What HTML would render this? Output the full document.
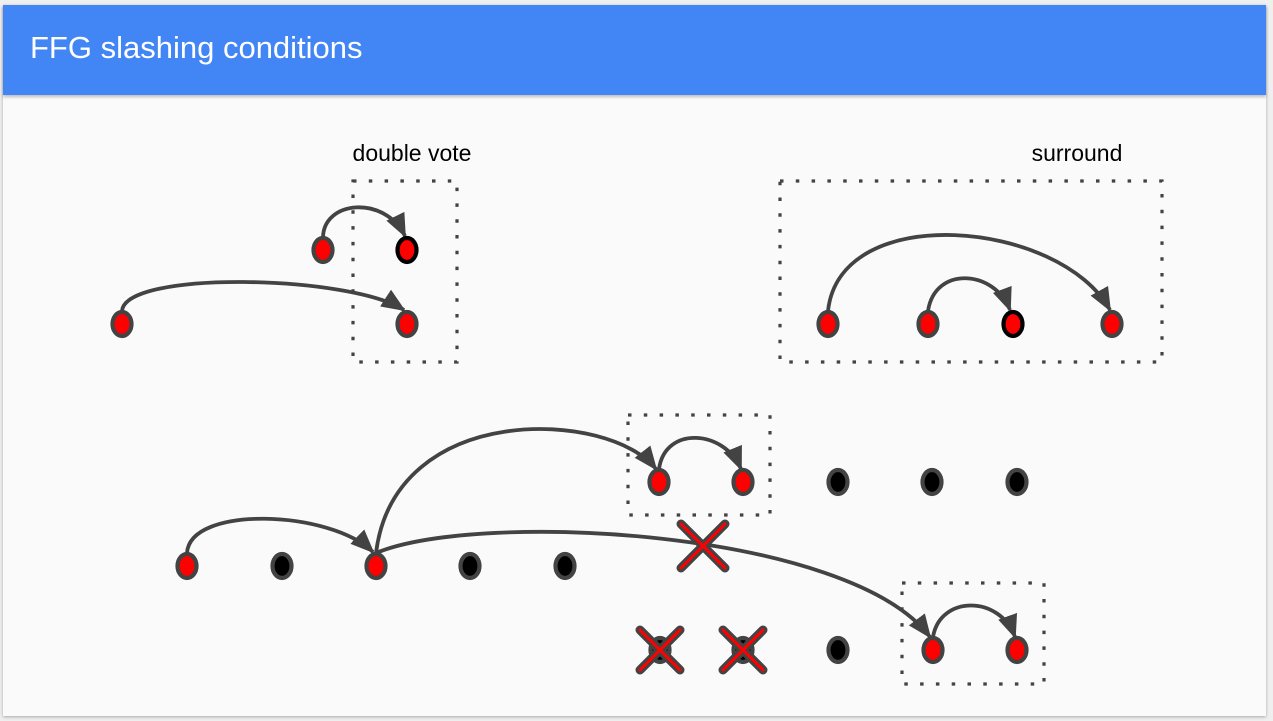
<!DOCTYPE html>
<html><head><meta charset="utf-8"><style>
html,body{margin:0;padding:0;background:#efefef;width:1273px;height:721px;overflow:hidden}
.card{position:absolute;left:3px;top:5px;width:1263px;height:711px;background:#fafafa;box-shadow:0 1px 3px rgba(0,0,0,.3)}
.hdr{position:absolute;left:0;top:0;width:1263px;height:90px;background:#4285f4;box-shadow:0 2px 3px rgba(0,0,0,.25)}
.hdr span{position:absolute;left:27px;top:25px;color:#fff;font:31px "Liberation Sans",sans-serif}
svg{position:absolute;left:0;top:0}
</style></head><body>
<div class="card"><div class="hdr"><span>FFG slashing conditions</span></div></div>
<svg width="1273" height="721" viewBox="0 0 1273 721">
<defs>
<marker id="a" markerUnits="userSpaceOnUse" markerWidth="28" markerHeight="24" refX="22" refY="10" orient="auto"><path d="M0,0 L24,10 L0,20 Z" fill="#434343"/></marker>
</defs>
<g font-family="Liberation Sans,sans-serif" font-size="23" fill="#000">
<text x="412" y="161" text-anchor="middle">double vote</text>
<text x="1077" y="161" text-anchor="middle">surround</text>
</g>
<g fill="none" stroke="#434343" stroke-width="3.2" stroke-dasharray="3.5 12.3">
<rect x="353" y="181" width="104" height="181"/>
<rect x="780" y="181" width="382" height="181"/>
<rect x="628" y="415" width="142" height="100"/>
<rect x="902" y="583" width="142" height="101"/>
</g>
<g fill="none" stroke="#434343" stroke-width="3.8" marker-end="url(#a)">
<path d="M323,238 C323,200 385,195 405,236"/>
<path d="M122,311 C125,270 350,275 404,310"/>
<path d="M828,311 C840,200 1060,220 1110,310"/>
<path d="M928,311 C935,265 995,270 1010,310"/>
<path d="M187,553 C190,505 330,510 373,552"/>
<path d="M376,553 C395,400 610,410 656,469"/>
<path d="M659,469 C665,425 725,430 741,469"/>
<path d="M376,553 C480,510 850,530 930,637"/>
<path d="M933,637 C940,595 1000,595 1015,637"/>
</g>
<g stroke="#434343" stroke-width="4.2">
<g fill="#ff0000">
<ellipse cx="323" cy="250" rx="9.5" ry="12"/>
<ellipse cx="122" cy="324" rx="9.5" ry="12"/>
<ellipse cx="407" cy="324" rx="9.5" ry="12"/>
<ellipse cx="828" cy="324" rx="9.5" ry="12"/>
<ellipse cx="928" cy="324" rx="9.5" ry="12"/>
<ellipse cx="1112" cy="324" rx="9.5" ry="12"/>
<ellipse cx="659" cy="482" rx="9.5" ry="12"/>
<ellipse cx="743" cy="482" rx="9.5" ry="12"/>
<ellipse cx="187" cy="566" rx="9.5" ry="12"/>
<ellipse cx="376" cy="566" rx="9.5" ry="12"/>
<ellipse cx="933" cy="650" rx="9.5" ry="12"/>
<ellipse cx="1017" cy="650" rx="9.5" ry="12"/>
</g>
<g fill="#ff0000" stroke="#000">
<ellipse cx="407" cy="250" rx="9.5" ry="12"/>
<ellipse cx="1013" cy="324" rx="9.5" ry="12"/>
</g>
<g fill="#000">
<ellipse cx="838" cy="482" rx="9.5" ry="12"/>
<ellipse cx="932" cy="482" rx="9.5" ry="12"/>
<ellipse cx="1017" cy="482" rx="9.5" ry="12"/>
<ellipse cx="282" cy="566" rx="9.5" ry="12"/>
<ellipse cx="470" cy="566" rx="9.5" ry="12"/>
<ellipse cx="565" cy="566" rx="9.5" ry="12"/>
<ellipse cx="838" cy="650" rx="9.5" ry="12"/>
<ellipse cx="660" cy="650" rx="9.5" ry="12"/>
<ellipse cx="743" cy="650" rx="9.5" ry="12"/>
</g>
</g>
<g stroke-linecap="round">
<g stroke="#434343" stroke-width="9">
<path d="M681,524 L725,568 M725,524 L681,568"/>
<path d="M640,630 L680,670 M680,630 L640,670"/>
<path d="M723,630 L763,670 M763,630 L723,670"/>
</g>
<g stroke="#ff0000" stroke-width="3">
<path d="M681,524 L725,568 M725,524 L681,568"/>
<path d="M640,630 L680,670 M680,630 L640,670"/>
<path d="M723,630 L763,670 M763,630 L723,670"/>
</g>
</g>
</svg>
</body></html>
